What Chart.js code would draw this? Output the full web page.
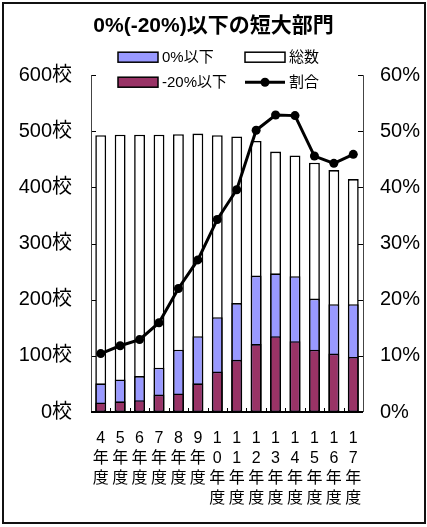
<!DOCTYPE html>
<html lang="ja">
<head>
<meta charset="utf-8">
<title>0%(-20%)以下の短大部門</title>
<script src="https://cdn.jsdelivr.net/npm/chart.js@4/dist/chart.umd.min.js"></script>
<style>
  html, body { margin: 0; padding: 0; background: #fff; }
  #wrap { position: relative; width: 427px; height: 527px; }
  #c { position: absolute; left: 0; top: 0; }
  #frame { position: absolute; left: 2px; top: 2px; width: 420px; height: 518px;
           border: 2px solid #111; pointer-events: none; }
</style>
</head>
<body>
<div id="wrap">
  <canvas id="c" width="427" height="527"></canvas>
  <div id="frame"></div>
</div>
<script>
// 年度
const categories = ["4年度", "5年度", "6年度", "7年度", "8年度", "9年度", "10年度",
                    "11年度", "12年度", "13年度", "14年度", "15年度", "16年度", "17年度"];
// 総数（校）
const totalSchools = [493, 494, 494, 494, 495, 496, 493, 491, 483, 464, 457, 444, 431, 415];
// 0%以下（校）
const atOrBelow0 = [51, 58, 64, 79, 111, 135, 169, 194, 243, 247, 242, 202, 192, 192];
// -20%以下（校）
const atOrBelowMinus20 = [17, 19, 21, 31, 33, 51, 72, 93, 121, 135, 126, 111, 104, 98];
// 割合（%）
const ratioPct = [10.4, 11.8, 12.9, 15.9, 22.0, 27.1, 34.3, 39.6, 50.2, 52.9, 52.8, 45.6, 44.3, 45.9];

// 軸目盛
const schoolTicks = [0, 100, 200, 300, 400, 500, 600];
const pctTicks = [0, 10, 20, 30, 40, 50, 60];

const FONT = '"Liberation Sans", Arial, "Noto Sans CJK JP", sans-serif';
const BLUE = '#9999ff';
const WINE = '#993366';

// 内向きの目盛線と軸線
const innerTicks = {
  id: 'innerTicks',
  afterDatasetsDraw(chart) {
    const { ctx, chartArea } = chart;
    const yl = chart.scales.y, yr = chart.scales.y2, x = chart.scales.x;
    ctx.save();
    ctx.strokeStyle = '#000';
    ctx.lineWidth = 1;
    ctx.beginPath();
    schoolTicks.forEach(v => {
      const py = Math.round(yl.getPixelForValue(v)) + 0.5;
      ctx.moveTo(chartArea.left, py); ctx.lineTo(chartArea.left + 5, py);
    });
    pctTicks.forEach(v => {
      const py = Math.round(yr.getPixelForValue(v)) + 0.5;
      ctx.moveTo(chartArea.right, py); ctx.lineTo(chartArea.right - 5, py);
    });
    const half = (x.getPixelForValue(1) - x.getPixelForValue(0)) / 2;
    for (let i = 0; i <= categories.length; i++) {
      const px = Math.round(x.getPixelForValue(i) - half) + 0.5;
      ctx.moveTo(px, chartArea.bottom); ctx.lineTo(px, chartArea.bottom - 4);
    }
    ctx.stroke();
    ctx.lineWidth = 1;
    ctx.strokeStyle = '#444';
    ctx.beginPath();
    ctx.moveTo(Math.round(chartArea.left) + 0.5, chartArea.top);
    ctx.lineTo(Math.round(chartArea.left) + 0.5, chartArea.bottom);
    ctx.moveTo(Math.round(chartArea.right) + 0.5, chartArea.top);
    ctx.lineTo(Math.round(chartArea.right) + 0.5, chartArea.bottom);
    ctx.stroke();
    ctx.lineWidth = 2;
    ctx.strokeStyle = '#000';
    ctx.beginPath();
    ctx.moveTo(chartArea.left, chartArea.bottom);
    ctx.lineTo(chartArea.right, chartArea.bottom);
    ctx.stroke();
    ctx.restore();
  }
};

// 凡例（2列×2行）
const gridLegend = {
  id: 'gridLegend',
  afterDraw(chart) {
    const { ctx, chartArea } = chart;
    const ds = chart.data.datasets;
    const byLabel = l => ds.find(d => d.label === l);
    const cells = [
      { d: byLabel('0%以下'), col: 0, row: 0 },
      { d: byLabel('総数'), col: 1, row: 0 },
      { d: byLabel('-20%以下'), col: 0, row: 1 },
      { d: byLabel('割合'), col: 1, row: 1 }
    ];
    ctx.save();
    ctx.font = '15px ' + FONT;
    ctx.textBaseline = 'middle';
    ctx.textAlign = 'left';
    cells.forEach(c => {
      const x0 = chartArea.left + 27 + c.col * 127;
      const yc = chartArea.top - 18 + c.row * 25;
      if (c.d.type === 'line') {
        ctx.strokeStyle = '#000';
        ctx.lineWidth = 3;
        ctx.beginPath();
        ctx.moveTo(x0, yc); ctx.lineTo(x0 + 40, yc);
        ctx.stroke();
        ctx.fillStyle = '#000';
        ctx.beginPath();
        ctx.arc(x0 + 20, yc, 4.5, 0, Math.PI * 2);
        ctx.fill();
      } else {
        ctx.fillStyle = c.d.backgroundColor;
        ctx.fillRect(x0, yc - 5, 40, 10);
        ctx.strokeStyle = '#000';
        ctx.lineWidth = 1.5;
        ctx.strokeRect(x0, yc - 5, 40, 10);
      }
      ctx.fillStyle = '#000';
      ctx.fillText(c.d.label, x0 + 44, yc + 1);
    });
    ctx.restore();
  }
};

const barCommon = {
  type: 'bar',
  grouped: false,
  borderColor: '#000',
  borderWidth: 1.6,
  borderSkipped: false,
  categoryPercentage: 1,
  barPercentage: 0.56,
  yAxisID: 'y'
};

new Chart(document.getElementById('c'), {
  type: 'bar',
  data: {
    labels: categories,
    datasets: [
      {
        type: 'line', label: '割合', data: ratioPct, yAxisID: 'y2', order: 0,
        borderColor: '#000', backgroundColor: '#000', borderWidth: 3,
        pointRadius: 4.5, pointBackgroundColor: '#000', pointBorderWidth: 0,
        tension: 0, fill: false
      },
      Object.assign({}, barCommon, { label: '-20%以下', data: atOrBelowMinus20, backgroundColor: WINE, order: 1 }),
      Object.assign({}, barCommon, { label: '0%以下', data: atOrBelow0, backgroundColor: BLUE, order: 2 }),
      Object.assign({}, barCommon, { label: '総数', data: totalSchools, backgroundColor: '#fff', order: 3 })
    ]
  },
  options: {
    responsive: false,
    animation: false,
    layout: { padding: { left: 0, right: 0, top: 0, bottom: 0 } },
    plugins: {
      legend: { display: false },
      tooltip: { enabled: false },
      title: {
        display: true,
        text: '0%(-20%)以下の短大部門',
        color: '#000',
        font: { family: FONT, size: 21, weight: 'bold', lineHeight: 1.2 },
        padding: { top: 14, bottom: 36 }
      }
    },
    scales: {
      x: {
        grid: { display: false, drawTicks: false },
        border: { display: false },
        ticks: {
          color: '#000',
          padding: 17,
          maxRotation: 0,
          autoSkip: false,
          font: { family: FONT, size: 16, lineHeight: 1.25 },
          callback: function (value) { return Array.from(this.getLabelForValue(value)); }
        },
        afterFit(scale) { scale.height = 115; }
      },
      y: {
        position: 'left',
        min: 0, max: 600,
        afterBuildTicks(scale) { scale.ticks = schoolTicks.map(v => ({ value: v })); },
        grid: { display: false, drawTicks: false },
        border: { display: false },
        ticks: {
          color: '#000',
          padding: 19,
          font: { family: FONT, size: 20 },
          callback: v => v + '校'
        },
        afterFit(scale) { scale.width = 91; }
      },
      y2: {
        position: 'right',
        min: 0, max: 60,
        afterBuildTicks(scale) { scale.ticks = pctTicks.map(v => ({ value: v })); },
        grid: { display: false, drawTicks: false },
        border: { display: false },
        ticks: {
          color: '#000',
          padding: 17,
          font: { family: FONT, size: 20 },
          callback: v => v + '%'
        },
        afterFit(scale) { scale.width = 64; }
      }
    }
  },
  plugins: [innerTicks, gridLegend]
});
</script>
</body>
</html>
